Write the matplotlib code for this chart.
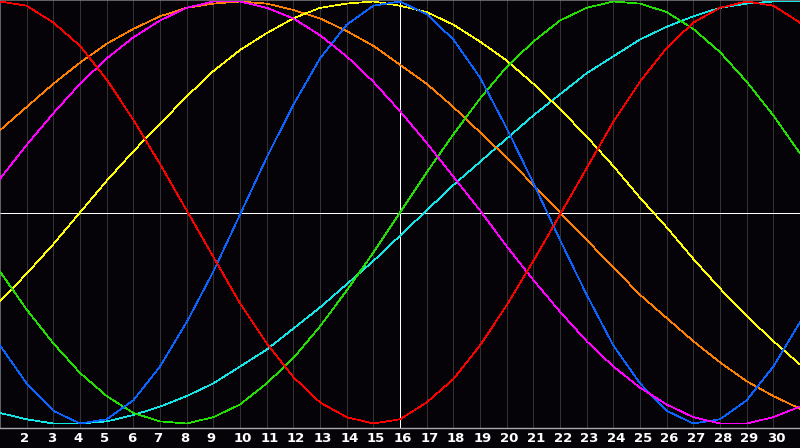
import matplotlib
matplotlib.use('Agg')
import matplotlib.pyplot as plt
import matplotlib.transforms as mtransforms
from matplotlib.transforms import offset_copy

days = list(range(1, 32))
tick_days = list(range(2, 31))
tick_labels = [str(d) for d in tick_days]
today = 16

physical = [-0.63, -0.81, -0.94, -1.00, -0.98, -0.89, -0.73, -0.52, -0.28, -0.01, 0.26,
            0.51, 0.73, 0.89, 0.98, 1.00, 0.94, 0.82, 0.64, 0.40, 0.14, -0.13,
            -0.39, -0.63, -0.81, -0.94, -1.00, -0.98, -0.89, -0.73, -0.52]
emotional = [1.00, 0.98, 0.90, 0.79, 0.63, 0.44, 0.23, 0.01, -0.21, -0.43, -0.62,
             -0.78, -0.90, -0.97, -1.00, -0.98, -0.90, -0.79, -0.63, -0.44, -0.23, -0.01,
             0.21, 0.43, 0.62, 0.78, 0.90, 0.97, 1.00, 0.98, 0.90]
intellectual = [-0.28, -0.46, -0.62, -0.76, -0.87, -0.95, -0.99, -1.00, -0.97, -0.91, -0.81,
                -0.69, -0.54, -0.37, -0.19, 0.00, 0.19, 0.37, 0.54, 0.69, 0.81, 0.91,
                0.97, 1.00, 0.99, 0.95, 0.87, 0.76, 0.62, 0.46, 0.28]
intuitive = [0.16, 0.32, 0.47, 0.61, 0.73, 0.83, 0.91, 0.97, 1.00, 1.00, 0.97,
             0.92, 0.84, 0.74, 0.62, 0.48, 0.33, 0.17, 0.01, -0.16, -0.32, -0.47,
             -0.61, -0.73, -0.83, -0.91, -0.97, -1.00, -1.00, -0.97, -0.92]
aesthetic = [-0.42, -0.29, -0.15, 0.00, 0.15, 0.29, 0.42, 0.55, 0.67, 0.77, 0.85,
             0.92, 0.97, 0.99, 1.00, 0.98, 0.95, 0.89, 0.81, 0.72, 0.61, 0.49,
             0.36, 0.22, 0.07, -0.07, -0.22, -0.36, -0.49, -0.61, -0.72]
awareness = [0.39, 0.50, 0.61, 0.71, 0.80, 0.87, 0.93, 0.97, 0.99, 1.00, 0.99,
             0.96, 0.92, 0.86, 0.79, 0.70, 0.61, 0.50, 0.38, 0.26, 0.13, -0.00,
             -0.13, -0.26, -0.39, -0.50, -0.61, -0.71, -0.80, -0.87, -0.93]
spiritual = [-0.95, -0.98, -1.00, -1.00, -0.99, -0.96, -0.92, -0.87, -0.81, -0.73, -0.65,
             -0.55, -0.45, -0.34, -0.23, -0.11, 0.01, 0.13, 0.24, 0.35, 0.46, 0.56,
             0.66, 0.74, 0.82, 0.88, 0.93, 0.97, 0.99, 1.00, 1.00]

series = [
    (spiritual, '#12e6e6'),
    (awareness, '#ff8000'),
    (aesthetic, '#ffff00'),
    (intellectual, '#22e000'),
    (physical, '#0a64ff'),
    (intuitive, '#ff00ff'),
    (emotional, '#ff0000'),
]

BG = '#050308'
W, H = 800, 448
fig = plt.figure(figsize=(W / 100, H / 100), dpi=100, facecolor=BG)
ax = fig.add_axes([0, 20 / H, 1, 428 / H])
ax.set_facecolor(BG)
ax.set_xlim(days[0], days[-1])
ax.set_ylim(-1.0213, 1.0071)

lw = 0.5
for d in tick_days:
    if d != today:
        ax.axvline(d, color='#333333', lw=lw, antialiased=False, zorder=1)

for vals, col in series:
    ax.plot(days, vals, color=col, lw=lw, antialiased=False, zorder=3)

ax.axhline(0, color='white', lw=0.6, antialiased=False, zorder=2)
ax.axvline(today, color='white', lw=0.6, antialiased=False, zorder=2)

for s in ['left', 'top', 'right']:
    ax.spines[s].set_color('#8a8a8a')
    ax.spines[s].set_linewidth(lw)
ax.spines['bottom'].set_color('#a8a8a8')
ax.spines['bottom'].set_linewidth(1.0)
ax.set_xticks([])
ax.set_yticks([])

trans = offset_copy(ax.transData, fig=fig, x=-6.5, y=0, units='dots')
blend = mtransforms.blended_transform_factory(trans, fig.transFigure)
for d, lab in zip(tick_days, tick_labels):
    fig.text(d, 9.5 / H, lab, transform=blend, ha='left', va='center',
             color='white', fontsize=9.5, fontweight='bold', family='DejaVu Sans')

fig.savefig('out.png', dpi=100, facecolor=BG)
